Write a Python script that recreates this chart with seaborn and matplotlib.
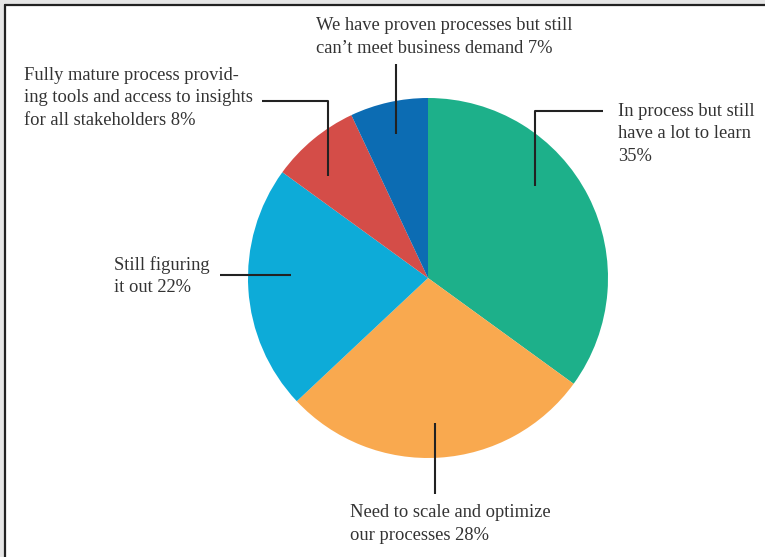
import matplotlib
matplotlib.use("Agg")
import matplotlib.pyplot as plt
import seaborn as sns

labels = [
    "In process but still\nhave a lot to learn\n35%",
    "Need to scale and optimize\nour processes 28%",
    "Still figuring\nit out 22%",
    "Fully mature process provid-\ning tools and access to insights\nfor all stakeholders 8%",
    "We have proven processes but still\ncan\u2019t meet business demand 7%",
]
shares = [35, 28, 22, 8, 7]
colors = ["#1db08a", "#f9a94f", "#0dabd8", "#d44d48", "#0c6cb3"]

# label layout in pixel coords (x left, y centre of block), leader line paths
label_pos = [(618, 134), (350, 524), (114, 276), (24, 98), (316, 37)]
leaders = [
    [(535, 186), (535, 111), (603, 111)],
    [(435, 423), (435, 494)],
    [(220, 275), (291, 275)],
    [(262, 101), (328, 101), (328, 176)],
    [(396, 64), (396, 134)],
]

W, H = 765, 557
sns.set_theme(style="white")
plt.rcParams["font.family"] = ["Liberation Serif", "DejaVu Serif"]

fig = plt.figure(figsize=(W / 100, H / 100), dpi=100)
fig.patch.set_facecolor("#e6e6e6")
ax = fig.add_axes([0, 0, 1, 1])


def py(y):
    return H - y


# white panel with frame on top and left
ax.add_patch(plt.Rectangle((5, 0), W, H - 5, facecolor="white", edgecolor="none", zorder=0))
ax.plot([5, 5], [0, py(5)], color="#222222", lw=1.6, zorder=1)
ax.plot([5, W], [py(5), py(5)], color="#222222", lw=1.6, zorder=1)

ax.pie(shares, colors=colors, startangle=90, counterclock=False,
       center=(428, py(278)), radius=180, frame=True,
       wedgeprops=dict(linewidth=0))
ax.set_xlim(0, W)
ax.set_ylim(0, H)
ax.set_aspect("equal")
ax.axis("off")

for lab, (x, y), path in zip(labels, label_pos, leaders):
    ax.text(x, py(y), lab, ha="left", va="center", fontsize=13.3,
            color="#333333", linespacing=1.4, zorder=5)
    xs = [p[0] for p in path]
    ys = [py(p[1]) for p in path]
    ax.plot(xs, ys, color="#222222", lw=1.5, zorder=4, solid_capstyle="butt")

fig.savefig("out.png", dpi=100)
